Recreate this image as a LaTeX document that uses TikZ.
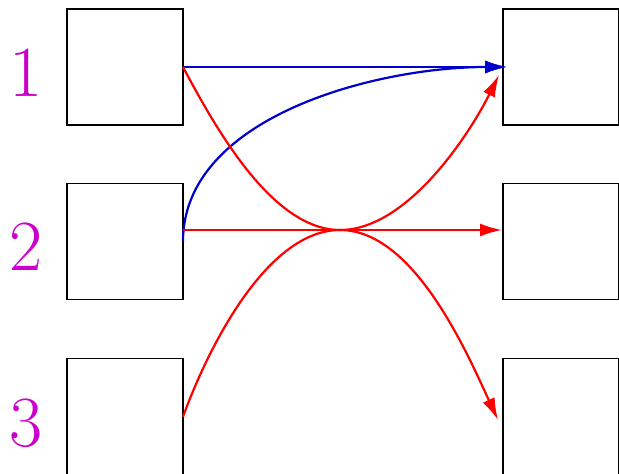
\documentclass[tikz,border=0pt]{standalone}
\usetikzlibrary{arrows.meta}
\definecolor{labmag}{RGB}{204,0,204}
\definecolor{arrblue}{RGB}{0,0,204}
\definecolor{arrred}{RGB}{255,0,0}
\begin{document}
\begin{tikzpicture}[x=0.5pt,y=-0.5pt,
  boxnode/.style={draw=black,line width=0.55pt,minimum size=58pt,inner sep=0pt,outer sep=0pt},
  numlabel/.style={text=labmag,inner sep=0pt,anchor=base,font=\fontsize{36}{40}\selectfont},
  bluearr/.style={draw=arrblue,line width=1.1pt,-{Latex[length=11pt,width=6.5pt]}},
  redarr/.style={draw=arrred,line width=1.1pt,-{Latex[length=11pt,width=6.5pt]}}]
\useasboundingbox (0,0) rectangle (619,474);
% boxes
\node[boxnode] (A1) at (125,67) {};
\node[boxnode] (A2) at (125,241.5) {};
\node[boxnode] (A3) at (125,416.8) {};
\node[boxnode] (B1) at (561,67) {};
\node[boxnode] (B2) at (561,241.5) {};
\node[boxnode] (B3) at (561,416.8) {};
% labels
\node[numlabel] (L1) at (26,96.7) {1};
\node[numlabel] (L2) at (26,270.7) {2};
\node[numlabel] (L3) at (26,446) {3};
% helper coordinates
\coordinate (R2) at (183,230);
\coordinate (M) at (340,230);
\coordinate (T1b) at (507,67);
\coordinate (T1r) at (499,75);
\coordinate (T2r) at (502,230);
\coordinate (T3r) at (498,420);
% blue arrows
\draw[bluearr] (A1.east) -- (T1b);
\draw[bluearr] (A2.east) .. controls +(0,-125) and +(-130,0) .. (T1b);
% red arrows
\draw[redarr] (R2) -- (T2r);
\draw[redarr] (A1.east) .. controls +(32,60) and +(-68,0) .. (M)
  .. controls +(74,0) and +(-31,-67) .. (T3r);
\draw[redarr] (A3.east) .. controls +(25,-69) and +(-73,0) .. (M)
  .. controls +(67,0) and +(-30,60) .. (T1r);
\end{tikzpicture}
\end{document}
